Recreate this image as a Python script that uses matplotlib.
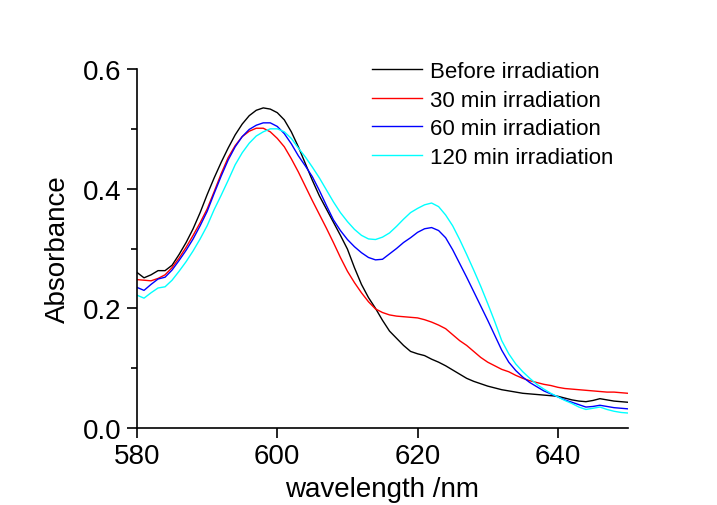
import numpy as np
import matplotlib
matplotlib.use("Agg")
import matplotlib.pyplot as plt
from matplotlib.ticker import MultipleLocator

plt.rcParams['font.family'] = ['Liberation Sans', 'DejaVu Sans']

wavelength = list(range(580, 651))

before = [0.260, 0.251, 0.256, 0.263, 0.263, 0.272, 0.290, 0.310, 0.333, 0.360,
          0.390, 0.418, 0.444, 0.468, 0.490, 0.508, 0.522, 0.531, 0.535, 0.533,
          0.527, 0.515, 0.495, 0.470, 0.442, 0.414, 0.388, 0.366, 0.344, 0.322,
          0.299, 0.268, 0.240, 0.218, 0.200, 0.180, 0.162, 0.150, 0.138, 0.128,
          0.124, 0.121, 0.115, 0.110, 0.104, 0.097, 0.090, 0.083, 0.078, 0.074,
          0.070, 0.067, 0.064, 0.062, 0.060, 0.058, 0.057, 0.056, 0.055, 0.054,
          0.053, 0.050, 0.047, 0.045, 0.044, 0.046, 0.049, 0.047, 0.045, 0.044,
          0.043]

min30 = [0.248, 0.247, 0.246, 0.250, 0.256, 0.268, 0.284, 0.302, 0.322, 0.343,
         0.366, 0.395, 0.425, 0.452, 0.472, 0.487, 0.496, 0.501, 0.501, 0.495,
         0.484, 0.470, 0.450, 0.428, 0.404, 0.380, 0.357, 0.334, 0.310, 0.285,
         0.262, 0.243, 0.226, 0.211, 0.199, 0.193, 0.189, 0.187, 0.186, 0.185,
         0.184, 0.181, 0.177, 0.172, 0.166, 0.156, 0.146, 0.138, 0.128, 0.118,
         0.110, 0.104, 0.098, 0.094, 0.088, 0.083, 0.079, 0.076, 0.073, 0.071,
         0.068, 0.066, 0.065, 0.064, 0.063, 0.062, 0.061, 0.060, 0.060, 0.059,
         0.058]

min60 = [0.235, 0.230, 0.240, 0.249, 0.252, 0.264, 0.280, 0.297, 0.316, 0.338,
         0.362, 0.392, 0.421, 0.448, 0.470, 0.487, 0.499, 0.506, 0.510, 0.510,
         0.504, 0.492, 0.475, 0.455, 0.438, 0.420, 0.397, 0.372, 0.348, 0.330,
         0.315, 0.303, 0.293, 0.285, 0.281, 0.282, 0.291, 0.300, 0.310, 0.318,
         0.327, 0.333, 0.335, 0.330, 0.318, 0.298, 0.275, 0.252, 0.228, 0.204,
         0.180, 0.155, 0.130, 0.110, 0.096, 0.085, 0.076, 0.069, 0.062, 0.057,
         0.052, 0.047, 0.043, 0.039, 0.035, 0.036, 0.038, 0.036, 0.034, 0.033,
         0.032]

min120 = [0.222, 0.217, 0.226, 0.234, 0.236, 0.247, 0.262, 0.278, 0.296, 0.316,
          0.338, 0.365, 0.389, 0.414, 0.440, 0.460, 0.476, 0.488, 0.495, 0.500,
          0.500, 0.495, 0.484, 0.468, 0.453, 0.436, 0.418, 0.398, 0.378, 0.360,
          0.345, 0.332, 0.322, 0.316, 0.315, 0.319, 0.326, 0.337, 0.349, 0.360,
          0.367, 0.373, 0.376, 0.370, 0.356, 0.338, 0.315, 0.290, 0.264, 0.237,
          0.208, 0.178, 0.146, 0.124, 0.107, 0.094, 0.083, 0.073, 0.065, 0.058,
          0.052, 0.046, 0.041, 0.035, 0.031, 0.033, 0.035, 0.031, 0.028, 0.026,
          0.025]

labels = ["Before irradiation", "30 min irradiation", "60 min irradiation", "120 min irradiation"]
colors = ["black", "#ff0000", "#0000ff", "#00ffff"]

fig = plt.figure(figsize=(7.17, 5.06), dpi=100)
ax = fig.add_axes([137/717, 1 - 429/506, (628 - 137)/717, (429 - 70)/506])

for y, lab, c in zip([before, min30, min60, min120], labels, colors):
    ax.plot(wavelength, y, color=c, lw=1.0, label=lab)

ax.set_xlim(580, 650)
ax.set_ylim(0, 0.6)
ax.xaxis.set_major_locator(MultipleLocator(20))
ax.yaxis.set_major_locator(MultipleLocator(0.2))
ax.yaxis.set_minor_locator(MultipleLocator(0.1))
ax.yaxis.set_major_formatter(matplotlib.ticker.FormatStrFormatter('%.1f'))

for s in ['top', 'right']:
    ax.spines[s].set_visible(False)
for s in ['left', 'bottom']:
    ax.spines[s].set_linewidth(1.2)

ax.tick_params(axis='both', which='major', direction='out', length=7, width=1.2, labelsize=20, pad=4)
ax.tick_params(axis='y', which='minor', direction='out', length=4, width=1.2)

ax.set_xlabel("wavelength /nm", fontsize=20, labelpad=5)
ax.set_ylabel("Absorbance", fontsize=20, labelpad=9)

leg = ax.legend(loc='upper left', bbox_to_anchor=((372 - 137)/(628 - 137), (429 - 62)/359),
                frameon=False, fontsize=16, handlelength=2.25, handletextpad=0.36,
                labelspacing=0.34, borderaxespad=0, borderpad=0)

fig.savefig("out.png", dpi=100)
